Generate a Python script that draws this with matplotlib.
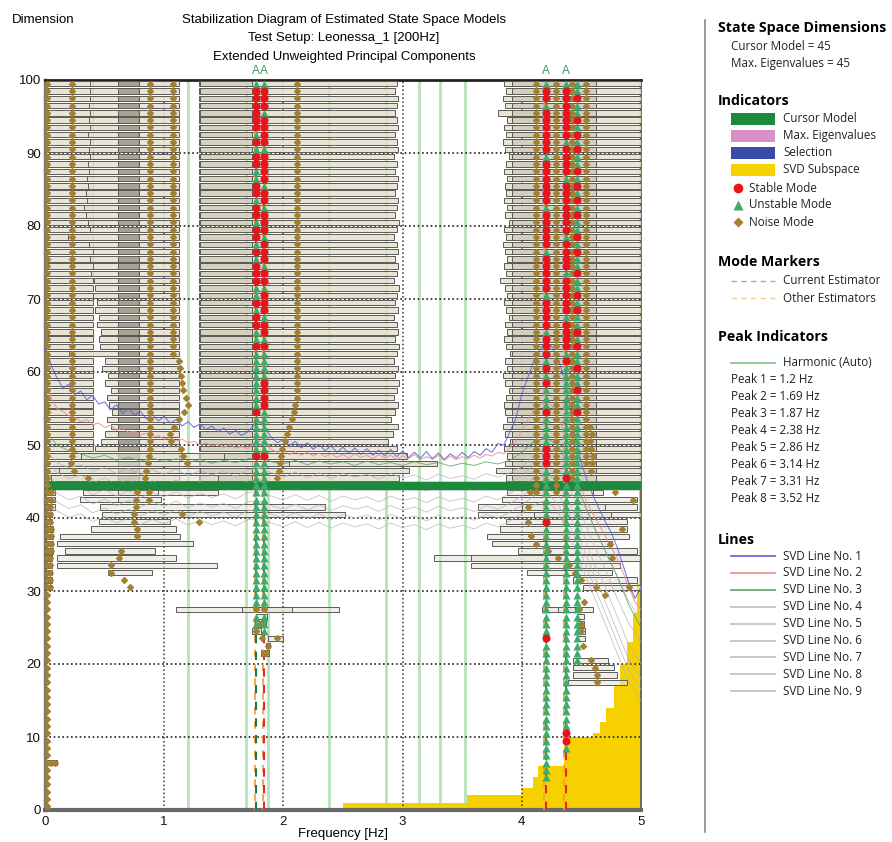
import numpy as np
import matplotlib
matplotlib.use("Agg")
import matplotlib.pyplot as plt
from matplotlib.patches import Rectangle
from matplotlib.lines import Line2D

plt.rcParams['font.family'] = ['Liberation Sans', 'DejaVu Sans']

W, H = 892, 842

# ---------------------------------------------------------------- data
TITLE_LINES = ["Stabilization Diagram of Estimated State Space Models",
               "Test Setup: Leonessa_1 [200Hz]",
               "Extended Unweighted Principal Components"]
CURSOR_MODEL = 45
MAX_EIGENVALUES = 45
PEAK_FREQS = [1.2, 1.69, 1.87, 2.38, 2.86, 3.14, 3.31, 3.52]
SELECTED_FREQS = [1.77, 1.84, 4.20, 4.37]

# SVD subspace (step function: edges in Hz, level in state-space dimension)
SUBSPACE_EDGES = [2.50, 3.54, 4.00, 4.09, 4.14, 4.35, 4.60, 4.66, 4.71, 4.77,
                  4.82, 4.88, 4.93, 4.97, 4.98, 5.00]
SUBSPACE_LEVELS = [1, 2, 3, 4.5, 6, 10, 10.5, 12, 14, 17, 20, 23, 27, 31, 100]

# SVD lines expressed on the dimension axis
SVD1 = [63.5, 61.0, 59.2, 57.8, 58.3, 56.9, 57.4, 56.2, 56.8, 55.6,
        55.9, 54.8, 55.5, 54.3, 55.0, 54.1, 54.6, 53.6, 54.2, 53.3,
        53.9, 53.0, 53.5, 52.6, 53.2, 52.4, 52.9, 52.1, 52.6, 51.8,
        52.3, 51.5, 52.0, 51.3, 51.8, 52.6, 53.2, 52.2, 51.0, 50.3,
        50.8, 49.9, 50.5, 49.6, 50.3, 49.4, 50.1, 49.2, 49.9, 49.0,
        49.7, 48.8, 49.6, 48.7, 49.5, 48.6, 49.3, 48.5, 49.4, 48.4,
        49.2, 48.3, 49.0, 48.2, 49.1, 48.1, 48.9, 48.0, 48.8, 48.2,
        49.0, 48.3, 49.1, 48.6, 49.5, 49.0, 50.2, 50.0, 51.8, 53.6,
        57.0, 59.2, 61.5, 63.0, 64.2, 63.5, 62.0, 59.5, 55.5, 51.0,
        47.5, 45.0, 43.0, 41.2, 39.5, 38.0, 36.0, 33.5, 31.0, 29.0,
        30.5]
SVD2 = [58.5, 56.5, 55.0, 54.6, 54.0, 53.8, 53.2, 53.5, 52.8, 53.0,
        52.4, 52.7, 52.0, 52.3, 51.7, 51.9, 51.4, 51.6, 51.0, 51.3,
        50.8, 51.0, 50.5, 50.8, 50.3, 50.5, 50.0, 50.3, 49.9, 50.1,
        49.7, 50.0, 49.6, 49.8, 49.5, 50.2, 50.6, 50.0, 49.4, 49.0,
        49.3, 48.7, 49.1, 48.6, 49.0, 48.5, 48.9, 48.4, 48.8, 48.3,
        48.7, 48.2, 48.8, 48.3, 48.6, 48.1, 48.7, 48.2, 48.6, 48.0,
        48.5, 48.1, 48.7, 48.0, 48.4, 48.1, 48.6, 47.9, 48.5, 48.0,
        48.4, 48.1, 48.6, 48.2, 48.7, 48.5, 49.0, 48.8, 49.6, 50.5,
        52.0, 53.5, 54.8, 55.5, 56.0, 55.4, 54.0, 52.0, 49.5, 46.5,
        44.0, 42.0, 40.5, 39.0, 37.5, 36.0, 34.5, 32.5, 30.5, 28.5,
        27.5]
SVD3 = [52.0, 50.0, 49.2, 48.8, 48.2, 48.6, 47.9, 48.3, 47.8, 48.2,
        47.7, 48.1, 47.6, 48.0, 47.5, 47.9, 47.6, 48.1, 48.4, 47.7,
        47.4, 47.9, 47.3, 47.8, 47.4, 47.7, 47.2, 47.8, 47.3, 47.6,
        47.2, 47.7, 47.3, 47.6, 47.1, 47.5, 47.2, 47.7, 47.4, 47.9,
        49.0, 50.5, 51.0, 50.0, 47.0, 43.0, 39.0, 35.5, 32.0, 28.0,
        25.0]
SVD4 = [49.5, 47.6, 46.9, 47.3, 46.4, 46.9, 46.1, 46.8, 45.9, 46.6,
        46.0, 46.7, 45.8, 46.5, 45.9, 46.4, 45.7, 46.6, 46.8, 46.2,
        45.6, 46.3, 45.5, 46.2, 45.4, 46.1, 45.6, 46.0, 45.3, 46.1,
        45.5, 45.9, 45.2, 46.0, 45.4, 45.8, 45.3, 46.1, 45.6, 46.2,
        47.0, 48.5, 49.6, 49.0, 46.0, 42.5, 39.0, 35.5, 32.0, 28.5,
        26.0]
SVD5 = [48.0, 46.2, 45.4, 45.9, 44.8, 45.5, 44.6, 45.3, 44.4, 45.1,
        44.5, 45.2, 44.3, 45.0, 44.4, 44.9, 44.2, 45.1, 45.3, 44.6,
        44.1, 44.8, 44.0, 44.7, 43.9, 44.6, 44.1, 44.5, 43.8, 44.6,
        44.0, 44.4, 43.7, 44.5, 43.9, 44.3, 43.8, 44.6, 44.1, 44.9,
        45.8, 47.2, 48.0, 47.0, 44.0, 40.5, 36.5, 33.0, 29.0, 25.5,
        23.0]
SVD6 = [46.5, 44.6, 43.8, 44.3, 43.2, 43.9, 43.0, 43.7, 42.8, 43.5,
        42.9, 43.6, 42.7, 43.4, 42.8, 43.3, 42.6, 43.5, 43.6, 43.0,
        42.5, 43.2, 42.4, 43.1, 42.3, 43.0, 42.5, 42.9, 42.2, 43.0,
        42.4, 42.8, 42.1, 42.9, 42.3, 42.7, 42.2, 43.0, 42.5, 43.4,
        44.3, 45.5, 46.3, 45.0, 42.0, 38.5, 34.0, 30.5, 26.5, 22.5,
        20.0]
SVD7 = [45.2, 43.4, 42.5, 43.0, 41.9, 42.6, 41.7, 42.4, 41.5, 42.2,
        41.6, 42.3, 41.4, 42.1, 41.5, 42.0, 41.3, 42.2, 42.3, 41.7,
        41.2, 41.9, 41.1, 41.8, 41.0, 41.7, 41.2, 41.6, 40.9, 41.7,
        41.1, 41.5, 40.8, 41.6, 41.0, 41.4, 40.9, 41.7, 41.2, 42.0,
        43.0, 44.2, 45.0, 43.5, 40.5, 36.5, 32.5, 28.5, 24.5, 20.5,
        18.0]
SVD8 = [44.0, 42.2, 41.3, 41.8, 40.7, 41.4, 40.5, 41.2, 40.3, 41.0,
        40.4, 41.1, 40.2, 40.9, 40.3, 40.8, 40.1, 41.0, 41.1, 40.5,
        40.0, 40.7, 39.9, 40.6, 39.8, 40.5, 40.0, 40.4, 39.7, 40.5,
        39.9, 40.3, 39.6, 40.4, 39.8, 40.2, 39.7, 40.5, 40.0, 40.8,
        41.8, 43.0, 43.6, 42.0, 39.0, 35.0, 31.0, 27.0, 23.0, 19.0,
        16.5]
SVD9 = [42.8, 41.0, 40.1, 40.6, 39.5, 40.2, 39.3, 40.0, 39.1, 39.8,
        39.2, 39.9, 39.0, 39.7, 39.1, 39.6, 38.9, 39.8, 39.9, 39.3,
        38.8, 39.5, 38.7, 39.4, 38.6, 39.3, 38.8, 39.2, 38.5, 39.3,
        38.7, 39.1, 38.4, 39.2, 38.6, 39.0, 38.5, 39.3, 38.8, 39.6,
        40.6, 41.8, 42.4, 41.0, 37.5, 33.5, 29.5, 25.5, 21.5, 17.5,
        15.0]

# Frequency-band boxes of the upper model orders (46..100)
UPPER_DIMS = list(range(46, 101))
LEFT_BOX_L = [0.05, 0.12, 0.20, 0.30, 0.42, 0.47, 0.50, 0.55, 0.52, 0.56,
              0.54, 0.52, 0.55, 0.50, 0.53, 0.48, 0.50, 0.20, 0.46, 0.45,
              0.47, 0.44, 0.45, 0.42, 0.44, 0.40, 0.42, 0.41, 0.39, 0.40,
              0.38, 0.40, 0.37, 0.19, 0.38, 0.36, 0.34, 0.33, 0.35, 0.34,
              0.36, 0.35, 0.37, 0.36, 0.38, 0.37, 0.38, 0.36, 0.38, 0.37,
              0.38, 0.37, 0.38, 0.38, 0.38]
LEFT_BOX_R = 1.12
LEFT_OUTER_BOX = (0.02, 0.40)
LEFT_CORE_BOX = (0.61, 0.79)
MID_BOX_L = 1.29
MID_BOX_R = [2.97, 3.05, 3.29, 3.04, 2.95, 2.88, 2.92, 2.96, 2.90, 2.94,
             2.96, 2.93, 2.95, 2.97, 2.94, 2.96, 2.93, 2.95, 2.97, 2.94,
             2.96, 2.95, 2.93, 2.96, 2.94, 2.95, 2.97, 2.93, 2.95, 2.96,
             2.94, 2.96, 2.95, 2.93, 2.95, 2.97, 2.94, 2.95, 2.96, 2.94,
             2.95, 2.96, 2.94, 2.95, 2.93, 2.96, 2.95, 2.94, 2.96, 2.95,
             2.94, 2.95, 2.96, 2.94, 2.95]
MID_CORE_BOX = (1.30, 1.74)
RIGHT_BOX_L = [3.87, 3.78, 3.86, 3.88, 3.85, 3.90, 3.86, 3.84, 3.88, 3.86,
               3.85, 3.87, 3.89, 3.86, 3.84, 3.88, 3.86, 3.90, 3.87, 3.85,
               3.88, 3.86, 3.89, 3.87, 3.85, 3.88, 3.86, 3.82, 3.87, 3.85,
               3.88, 3.86, 3.84, 3.87, 3.85, 3.89, 3.86, 3.88, 3.85, 3.87,
               3.86, 3.88, 3.85, 3.87, 3.89, 3.86, 3.84, 3.87, 3.85, 3.88,
               3.80, 3.86, 3.84, 3.87, 3.85]
RIGHT_BOX_R = 5.0
RIGHT_CORE_BOX = (3.92, 4.62)

# Boxes of the lower model orders: (dimension, f_low, f_high)
LOWER_BOXES = [
    (49, 0.30, 1.50), (48, 0.20, 2.05), (47, 0.12, 1.30), (46, 0.05, 1.45),
    (44, 0.00, 0.08), (44, 0.32, 0.95), (44, 0.61, 0.88), (44, 0.95, 1.45),
    (43, 0.00, 0.08), (43, 0.29, 0.97), (43, 0.61, 0.87),
    (42, 0.00, 0.08), (42, 0.46, 2.35), (41, 0.00, 0.06), (41, 0.48, 2.52),
    (40, 0.00, 0.06), (40, 0.45, 1.05), (39, 0.00, 0.07), (39, 0.39, 1.10),
    (38, 0.00, 0.07), (38, 0.13, 1.13), (37, 0.00, 0.07), (37, 0.10, 1.24),
    (36, 0.00, 0.07), (36, 0.17, 0.92), (35, 0.00, 0.06), (35, 0.10, 1.10),
    (34, 0.00, 0.06), (34, 0.10, 1.44), (33, 0.00, 0.06), (33, 0.53, 0.90),
    (32, 0.00, 0.06), (31, 0.00, 0.06),
    (28, 1.10, 2.47), (28, 1.65, 2.07), (27, 1.77, 1.86), (26, 1.77, 1.85),
    (25, 1.74, 1.81), (24, 1.87, 2.00), (23, 1.85, 1.89), (22, 1.81, 1.88),
    (7, 0.02, 0.10),
    (44, 3.88, 4.68), (44, 4.10, 4.60), (43, 3.83, 4.97), (42, 3.63, 4.97),
    (42, 4.00, 4.70), (41, 3.63, 5.00), (41, 4.10, 4.75), (40, 3.87, 4.88),
    (39, 3.82, 4.88), (38, 3.71, 4.90), (37, 3.75, 4.76), (36, 3.97, 4.97),
    (35, 3.26, 4.99), (35, 3.57, 4.30), (34, 3.57, 4.82), (33, 4.04, 4.76),
    (32, 4.43, 4.97), (31, 4.51, 5.00), (28, 4.17, 4.60), (28, 4.30, 4.45),
    (27, 4.46, 4.52), (26, 4.46, 4.52), (25, 4.47, 4.53), (24, 4.47, 4.53),
    (21, 4.43, 4.72), (20, 4.43, 4.77), (19, 4.43, 4.80), (18, 4.39, 4.88),
]

# Pole classification per model order 1..100
# S = stable, U = unstable, N = noise, - = no pole
POLE_TRACKS = [
    (1.77, "-" * 21 + "---NUUN" + "U" * 17 +
     "UUUSUUUUUS" "UUUUUUUUSU" "USSUSUUSSS" "USUSSUSSUS" "SUUSSUSUSS" "SSSSU"),
    (1.84, "-" * 21 + "N--UUUN" + "U" * 17 +
     "UUUSUUUUUU" "SSSSUUUUSU" "SSUSSSUSSU" "SSSUSSSUSS" "USSSSUSSSS" "USSSU"),
    (4.20, "----" + "U" * 19 + "S" + "U" * 15 + "S" + "U" * 5 +
     "UUSSSUUUUS" "UUUSUSUSSS" "USSSSUSSSS" "SUSSSSSUSS" "SSSSUSSSSS" "SUSSU"),
    (4.37, "-" * 8 + "USS" + "U" * 34 +
     "SUUUUUUUUU" "UUUUUUSUSS" "SSUSSSSSUS" "SSSUSSSSSS" "SUSSSSUSSS" "SSSSU"),
    (4.46, "-" * 20 + "U" * 25 +
     "UUUUUUUUUS" "UUSUUSUUSU" "SUUSUSUUSU" "USUSUUSUSU" "SUSUUSUSUS" "UUSUU"),
]

# Noise poles lying at a constant frequency: (frequency, first order, last order)
NOISE_COLUMNS = [(0.02, 1, 100), (0.23, 49, 100), (0.88, 50, 100),
                 (1.07, 63, 100), (2.11, 57, 100), (4.12, 44, 100),
                 (4.29, 44, 100), (4.42, 46, 100), (4.54, 48, 100)]

# Scattered noise poles: (model order, frequency)
NOISE_POINTS = [
    (48, 0.22), (47, 0.24), (46, 0.36),
    (49, 0.87), (48, 0.86), (47, 0.85), (46, 0.84), (44, 0.87), (43, 0.87),
    (44, 0.77), (43, 0.76), (42, 0.76), (41, 0.75), (40, 0.75), (39, 0.77),
    (38, 0.77), (36, 0.64), (35, 0.62), (34, 0.55), (33, 0.55), (32, 0.66),
    (31, 0.71),
    (62, 1.12), (61, 1.13), (60, 1.14), (59, 1.15), (58, 1.16), (57, 1.18),
    (56, 1.20), (55, 1.17), (54, 1.12), (53, 1.08), (52, 1.05), (51, 1.06),
    (50, 1.14), (49, 1.16), (48, 1.19), (41, 1.15), (40, 1.29),
    (56, 2.10), (55, 2.09), (54, 2.07), (53, 2.05), (52, 2.03), (51, 2.01),
    (50, 1.99), (49, 1.98), (48, 1.97), (47, 1.96), (46, 1.95),
    (44, 0.05), (43, 0.05), (42, 0.04), (41, 0.04), (40, 0.04), (39, 0.05),
    (38, 0.05), (37, 0.05), (36, 0.05), (35, 0.04), (34, 0.04), (33, 0.04),
    (32, 0.04), (31, 0.04), (7, 0.05), (7, 0.08),
    (28, 1.77), (28, 1.84), (26, 1.80), (25, 1.77), (24, 1.82), (24, 1.95),
    (23, 1.87), (22, 1.85),
    (44, 4.07), (42, 4.05), (40, 4.05), (38, 4.08), (37, 4.12), (36, 4.22),
    (35, 4.30), (34, 4.40), (33, 4.45), (32, 4.50), (31, 4.62), (30, 4.70),
    (44, 4.78), (43, 4.93), (39, 4.84), (37, 4.74), (35, 4.76), (31, 4.90),
    (47, 4.58), (48, 4.59), (49, 4.60), (50, 4.58), (51, 4.57), (52, 4.59),
    (53, 4.57), (29, 4.52), (28, 4.48), (26, 4.50), (25, 4.50), (23, 4.51),
    (21, 4.58), (20, 4.61), (19, 4.63), (18, 4.63),
]

PEAK_LABELS = [f"Peak {i + 1} = {f:g} Hz" for i, f in enumerate(PEAK_FREQS)]

# ---------------------------------------------------------------- figure
fig = plt.figure(figsize=(W / 100, H / 100), dpi=100)
ax = fig.add_axes([45 / W, 1 - 810 / H, 596 / W, 730 / H])
ax.set_xlim(0, 5)
ax.set_ylim(0, 100)

C_NOISE = '#a47f2e'
C_STABLE = '#e8141c'
C_UNSTABLE = '#3cab6c'
C_PEAK = '#b8e2b8'
C_CURSOR = '#1b8a3c'
C_YELLOW = '#f7d000'
ROW_OFF = 0.5      # rows are drawn in the band [order-1, order]
BOX_H = 0.74

# SVD subspace
ax.stairs(SUBSPACE_LEVELS, SUBSPACE_EDGES, fill=True, color=C_YELLOW,
          zorder=1.2, lw=0)

# harmonic peak indicators
for f in PEAK_FREQS:
    ax.axvline(f, color=C_PEAK, lw=2.0, zorder=1.1)

# dotted grid
for v in range(10, 100, 10):
    ax.axhline(v, color='#222222', lw=1.2, ls=(0, (1, 1.6)), zorder=2.2)
for v in range(1, 5):
    ax.axvline(v, color='#333333', lw=1.1, ls=(0, (1, 1.6)), zorder=2.2)


def box(d, f0, f1, face, edge='#5a5a58', lw=0.7, z=3.0):
    ax.add_patch(Rectangle((f0, d - ROW_OFF - BOX_H / 2), f1 - f0, BOX_H,
                           facecolor=face, edgecolor=edge, lw=lw, zorder=z))


FACE = (0.90, 0.88, 0.80, 0.85)
CORE = (0.58, 0.55, 0.49, 0.75)
for d, ll, mr, rl in zip(UPPER_DIMS, LEFT_BOX_L, MID_BOX_R, RIGHT_BOX_L):
    if d == CURSOR_MODEL:
        continue
    box(d, LEFT_OUTER_BOX[0], LEFT_OUTER_BOX[1], FACE)
    box(d, ll, LEFT_BOX_R, FACE)
    box(d, LEFT_CORE_BOX[0], LEFT_CORE_BOX[1], CORE)
    box(d, MID_BOX_L, mr, FACE)
    box(d, MID_CORE_BOX[0], MID_CORE_BOX[1], (0.80, 0.78, 0.70, 0.6))
    box(d, rl, RIGHT_BOX_R, FACE)
    box(d, RIGHT_CORE_BOX[0], RIGHT_CORE_BOX[1], (0.78, 0.76, 0.68, 0.6))

for d, f0, f1 in LOWER_BOXES:
    box(d, f0, f1, (0.90, 0.89, 0.84, 0.6))

# SVD lines
f_fine = np.linspace(0, 5, len(SVD1))
f_coarse = np.linspace(0, 5, len(SVD3))
for vals in (SVD9, SVD8, SVD7, SVD6, SVD5, SVD4):
    ax.plot(f_coarse, vals, color='#b4b4b4', lw=0.6, alpha=0.8, zorder=3.4)
ax.plot(f_coarse, SVD3, color='#5aa55a', lw=0.7, alpha=0.8, zorder=3.45)
ax.plot(f_fine, SVD2, color='#ec8c8c', lw=0.8, alpha=0.8, zorder=3.5)
ax.plot(f_fine, SVD1, color='#5c5cd6', lw=0.8, alpha=0.8, zorder=3.55)

# cursor model / max eigenvalues band
ax.axhspan(MAX_EIGENVALUES - 1, MAX_EIGENVALUES, color='#d88cc8', zorder=3.8)
ax.axhspan(CURSOR_MODEL - 1, CURSOR_MODEL, color=C_CURSOR, zorder=3.9)

# mode markers (estimators)
MODE_LINE_COLORS = ['#1f7a3a', '#e02828', '#e02828', '#e02828']
for f, c in zip(SELECTED_FREQS, MODE_LINE_COLORS):
    ax.axvline(f - 0.012, color='#f0a040', lw=1.3, ls=(3, (4, 4)), zorder=4.2)
    ax.axvline(f, color=c, lw=1.5, ls=(0, (4, 4)), zorder=4.3)
    ax.text(f, 101.3, 'A', color='#3c9a5c', fontsize=8.5, ha='center',
            va='center', clip_on=False)

# poles
nx, ny = [], []
for f, d0, d1 in NOISE_COLUMNS:
    for d in range(d0, d1 + 1):
        nx.append(f)
        ny.append(d - ROW_OFF)
for d, f in NOISE_POINTS:
    nx.append(f)
    ny.append(d - ROW_OFF)

sx, sy, ux, uy = [], [], [], []
for f, pattern in POLE_TRACKS:
    for d, ch in enumerate(pattern, start=1):
        if ch == 'S':
            sx.append(f); sy.append(d - ROW_OFF)
        elif ch == 'U':
            ux.append(f); uy.append(d - ROW_OFF)
        elif ch == 'N':
            nx.append(f); ny.append(d - ROW_OFF)
ax.plot(nx, ny, ls='none', marker='D', ms=3.0, color=C_NOISE, mec=C_NOISE,
        zorder=5)
ax.plot(ux, uy, ls='none', marker='^', ms=5.2, color=C_UNSTABLE, mec='none',
        zorder=5.1)
ax.plot(sx, sy, ls='none', marker='o', ms=5.8, color=C_STABLE, mec='none',
        zorder=5.2)

# axes styling
ax.set_xticks([0, 1, 2, 3, 4, 5])
ax.set_yticks(range(0, 101, 10))
ax.tick_params(length=0, labelsize=9.5, pad=3, colors='#111111')
ax.tick_params(axis='x', pad=4)
ax.spines['left'].set_color('#7a7a7a')
ax.spines['left'].set_linewidth(2.5)
ax.spines['bottom'].set_color('#6a6a6a')
ax.spines['bottom'].set_linewidth(3)
ax.spines['top'].set_color('#222222')
ax.spines['top'].set_linewidth(2.0)
ax.spines['top'].set_linestyle((0, (1, 1)))
ax.spines['right'].set_color('#555555')
ax.spines['right'].set_linewidth(1.2)


def fx(x):
    return x / W


def fy(y):
    return 1 - y / H


for txt, y in zip(TITLE_LINES, (20, 38, 57)):
    fig.text(fx(344), fy(y), txt, ha='center', va='center', fontsize=9.5)
fig.text(fx(12), fy(20), 'Dimension', ha='left', va='center', fontsize=9.5)
fig.text(fx(343), fy(834), 'Frequency [Hz]', ha='center', va='center',
         fontsize=9.5)

# ---------------------------------------------------------------- legend panel
LEG_FONT = ['Open Sans', 'DejaVu Sans']
fig.add_artist(Line2D([fx(705), fx(705)], [fy(20), fy(832)],
                      transform=fig.transFigure, color='#8a8a8a', lw=1.2))


def head(y, txt):
    fig.text(fx(718), fy(y), txt, fontsize=10.2, fontweight='bold',
             family=LEG_FONT, ha='left', va='center')


def item(x, y, txt):
    fig.text(fx(x), fy(y), txt, fontsize=8.4, family=LEG_FONT,
             ha='left', va='center', color='#222222')


def swatch(y, color):
    fig.add_artist(Rectangle((fx(731), fy(y + 6)), 44 / W, 12 / H,
                             transform=fig.transFigure, color=color, lw=0))


def sample(y, color, ls='-', lw=1.3):
    fig.add_artist(Line2D([fx(731), fx(775)], [fy(y), fy(y)],
                          transform=fig.transFigure, color=color, lw=lw,
                          ls=ls))


def marker(y, m, color, ms):
    fig.add_artist(Line2D([fx(738)], [fy(y)], transform=fig.transFigure,
                          marker=m, ms=ms, color=color, mec='none', ls='none'))


head(28, 'State Space Dimensions')
item(731, 46, f'Cursor Model = {CURSOR_MODEL}')
item(731, 63, f'Max. Eigenvalues = {MAX_EIGENVALUES}')

head(101, 'Indicators')
for y, c, t in ((119, C_CURSOR, 'Cursor Model'), (136, '#d890c8', 'Max. Eigenvalues'),
                (153, '#3a4ca8', 'Selection'), (170, C_YELLOW, 'SVD Subspace')):
    swatch(y, c)
    item(783, y, t)
marker(188, 'o', C_STABLE, 7)
item(749, 188, 'Stable Mode')
marker(205, '^', C_UNSTABLE, 7)
item(749, 205, 'Unstable Mode')
marker(222, 'D', C_NOISE, 5)
item(749, 222, 'Noise Mode')

head(262, 'Mode Markers')
sample(281, '#e89090', ls=(0, (4, 3)), lw=1.0)
item(783, 281, 'Current Estimator')
sample(298, '#f2cc90', ls=(0, (4, 3)), lw=1.0)
item(783, 298, 'Other Estimators')

head(337, 'Peak Indicators')
sample(363, '#8cc88c')
item(783, 363, 'Harmonic (Auto)')
for i, t in enumerate(PEAK_LABELS):
    item(731, 380 + i * 16.9, t)

head(540, 'Lines')
LINE_COLORS = ['#6a6ad2', '#ec9a9a', '#6aaa6a'] + ['#c4c4c4'] * 6
for i, c in enumerate(LINE_COLORS):
    y = 556 + i * 16.9
    sample(y, c)
    item(783, y, f'SVD Line No. {i + 1}')

fig.savefig('out.png', dpi=100)
